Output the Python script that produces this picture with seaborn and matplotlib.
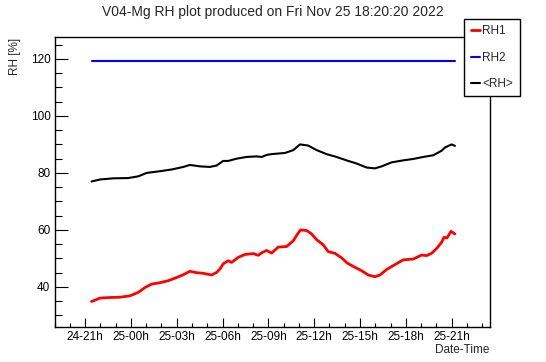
import matplotlib
matplotlib.use("Agg")
import matplotlib.pyplot as plt
import matplotlib.dates as mdates
from matplotlib.ticker import MultipleLocator
import seaborn as sns
import pandas as pd

# hours after 2022-11-24 21:00
rh1_hours = [0.42, 0.97, 1.62, 2.28, 2.94, 3.48, 3.92, 4.35, 4.90, 5.44, 5.99, 6.43,
             6.86, 7.30, 7.73, 8.28, 8.61, 8.83, 9.04, 9.37, 9.59, 10.03, 10.47, 11.01,
             11.34, 11.56, 11.89, 12.21, 12.65, 13.20, 13.63, 13.85, 14.11, 14.51, 14.83,
             15.16, 15.59, 15.92, 16.36, 16.80, 17.16, 17.67, 18.11, 18.54, 18.98, 19.31,
             19.74, 20.18, 20.83, 21.49, 22.04, 22.36, 22.69, 23.02, 23.35, 23.50, 23.70,
             23.96, 24.22]
rh1_values = [34.9, 36.1, 36.3, 36.4, 36.9, 38.1, 39.8, 41.0, 41.5, 42.2, 43.3, 44.3,
              45.5, 45.0, 44.8, 44.2, 45.1, 46.3, 48.1, 49.2, 48.6, 50.4, 51.4, 51.7,
              51.1, 52.0, 52.8, 51.9, 54.0, 54.2, 56.2, 58.1, 60.0, 59.8, 58.6,
              56.6, 54.8, 52.4, 51.8, 50.2, 48.4, 46.9, 45.7, 44.2, 43.6, 44.2,
              46.1, 47.5, 49.5, 49.8, 51.2, 51.0, 51.8, 53.5, 55.7, 57.4, 57.2,
              59.5, 58.6]

rh2_hours = [0.42, 24.22]
rh2_values = [119.2, 119.2]

avg_hours = [0.42, 0.97, 1.84, 2.82, 3.48, 4.03, 4.90, 5.66, 6.43, 6.86, 7.52, 8.17,
             8.61, 9.04, 9.37, 9.92, 10.57, 11.23, 11.56, 11.89, 12.21, 12.65, 13.09,
             13.63, 14.07, 14.61, 15.16, 15.81, 16.47, 17.12, 17.78, 18.43, 18.98, 19.42,
             20.07, 20.83, 21.49, 22.14, 22.80, 23.35, 23.56, 24.00, 24.22]
avg_values = [77.0, 77.7, 78.1, 78.2, 78.8, 80.0, 80.6, 81.2, 82.1, 82.8, 82.3, 82.1,
              82.6, 84.2, 84.2, 85.0, 85.6, 85.8, 85.6, 86.3, 86.6, 86.8, 87.0,
              88.0, 90.0, 89.6, 88.0, 86.6, 85.6, 84.4, 83.3, 81.9, 81.6, 82.3,
              83.7, 84.4, 84.9, 85.6, 86.2, 87.8, 88.9, 90.0, 89.5]

t0 = pd.Timestamp("2022-11-24 21:00")


def to_df(hours, values):
    return pd.DataFrame({"time": t0 + pd.to_timedelta(hours, unit="h"), "rh": values})


sns.set_theme(style="ticks")
plt.rcParams["font.family"] = ["Liberation Sans", "DejaVu Sans"]

fig = plt.figure(figsize=(5.46, 3.62), dpi=100)
ax = fig.add_axes([0.1, 0.097, 0.797, 0.801])

sns.lineplot(data=to_df(rh1_hours, rh1_values), x="time", y="rh", ax=ax,
             color="#ff0000", lw=2.0, label="RH1")
sns.lineplot(data=to_df(rh2_hours, rh2_values), x="time", y="rh", ax=ax,
             color="#0000ff", lw=1.5, label="RH2")
sns.lineplot(data=to_df(avg_hours, avg_values), x="time", y="rh", ax=ax,
             color="black", lw=1.5, label="<RH>")

ax.set_xlim(t0 + pd.Timedelta(hours=-2.0), t0 + pd.Timedelta(hours=26.5))
ax.set_ylim(26.0, 127.7)
ax.set_xlabel("")
ax.set_ylabel("")

ax.xaxis.set_major_locator(mdates.HourLocator(byhour=range(0, 24, 3)))
ax.xaxis.set_minor_locator(mdates.HourLocator())
ax.xaxis.set_major_formatter(mdates.DateFormatter("%d-%Hh"))
ax.yaxis.set_major_locator(MultipleLocator(20))
ax.yaxis.set_minor_locator(MultipleLocator(5))

ax.tick_params(which="both", direction="in", top=False, right=False,
               labelsize=8.5, colors="black", width=0.8)
ax.tick_params(axis="x", which="major", length=6.3, pad=3)
ax.tick_params(axis="x", which="minor", length=3.1)
ax.tick_params(axis="y", which="major", length=9.4, pad=3)
ax.tick_params(axis="y", which="minor", length=4.7)
for s in ax.spines.values():
    s.set_color("black")
    s.set_linewidth(1.0)

fig.text(0.5, 0.967, "V04-Mg RH plot produced on Fri Nov 25 18:20:20 2022",
         ha="center", va="center", fontsize=10)
fig.text(0.027, 0.896, "RH [%]", rotation=90, ha="center", va="top", fontsize=8.5)
fig.text(0.897, 0.032, "Date-Time", ha="right", va="center", fontsize=8.5)

leg = ax.legend(loc="upper left", bbox_to_anchor=(0.85, 0.9475),
                bbox_transform=fig.transFigure, frameon=True, fancybox=False,
                fontsize=8.5, handlelength=0.8, handletextpad=0.2,
                labelspacing=1.2, borderpad=0.55, borderaxespad=0)
leg.get_frame().set_edgecolor("black")
leg.get_frame().set_linewidth(1.0)
leg.get_frame().set_alpha(1.0)

fig.savefig("out.png", dpi=100)
